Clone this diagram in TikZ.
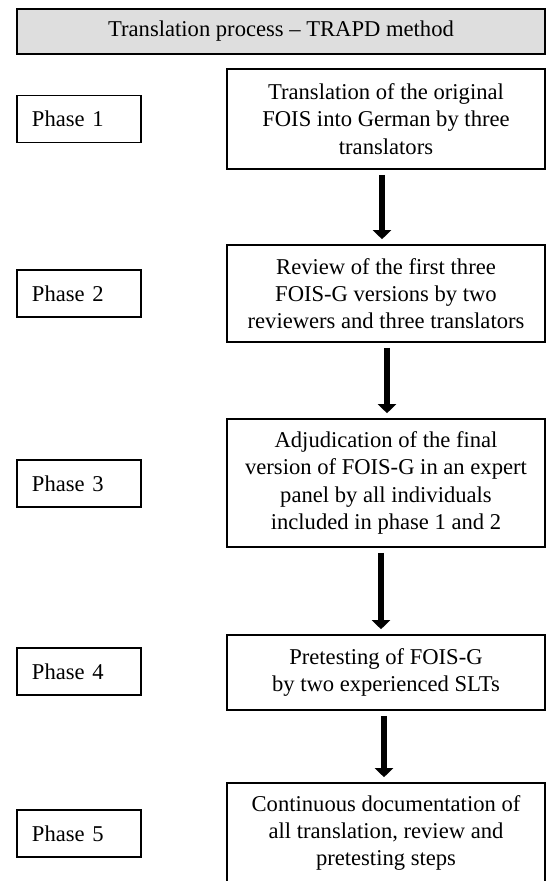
\documentclass[tikz,border=0pt]{standalone}
\usepackage{fontspec}
\setmainfont{Liberation Serif}
\usepackage{tikz}
\usetikzlibrary{arrows.meta}
\definecolor{headgray}{RGB}{222,222,222}

\begin{document}
\begin{tikzpicture}[x=0.5pt, y=-0.5pt,
    every node/.style={font=\fontsize{11.3}{13.6}\selectfont, line width=.8pt},
    headbox/.style={draw, fill=headgray, minimum width=264pt, minimum height=22.5pt, inner sep=0pt},
    stepbox/.style={draw, align=center, minimum width=159pt, inner sep=0pt},
    phasebox/.style={draw, text width=47pt, align=left, inner xsep=7.5pt, inner ysep=0pt, minimum height=23.5pt},
    flow/.style={line width=3pt, -{Triangle[width=9pt, length=4.5pt]}, shorten <=2.5pt, shorten >=2.5pt}]
      \useasboundingbox (0, 0) rectangle (547, 881);
      \node[headbox] (head) at (281, 31.5) {Translation process -- TRAPD method};
      \node[stepbox, minimum height=50pt] (trans) at (386, 119) {Translation of the original\\FOIS into German by three\\translators};
      \node[stepbox, minimum height=48.5pt] (review) at (386, 293.5) {Review of the first three\\FOIS-G versions by two\\reviewers and three translators};
      \node[stepbox, minimum height=64pt] (adjud) at (386, 483) {Adjudication of the final\\version of FOIS-G in an expert\\panel by all individuals\\included in phase 1 and 2};
      \node[stepbox, minimum height=37.5pt] (pretest) at (386, 672.5) {Pretesting of FOIS-G\\by two experienced SLTs};
      \node[stepbox, minimum height=50pt] (docu) at (386, 833) {Continuous documentation of\\all translation, review and\\pretesting steps};
      \node[phasebox] (ph1) at (79, 119) {Phase 1};
      \node[phasebox] (ph2) at (79, 293.5) {Phase 2};
      \node[phasebox] (ph3) at (79, 483.5) {Phase 3};
      \node[phasebox] (ph4) at (79, 671.5) {Phase 4};
      \node[phasebox] (ph5) at (79, 833.5) {Phase 5};
      \draw[flow] ([xshift=-2pt]trans.south) -- ([xshift=-2pt]review.north);
      \draw[flow] ([xshift=.5pt]review.south) -- ([xshift=.5pt]adjud.north);
      \draw[flow] ([xshift=-2.5pt]adjud.south) -- ([xshift=-2.5pt]pretest.north);
      \draw[flow] ([xshift=-1pt]pretest.south) -- ([xshift=-1pt]docu.north);
    \end{tikzpicture}
\end{document}
